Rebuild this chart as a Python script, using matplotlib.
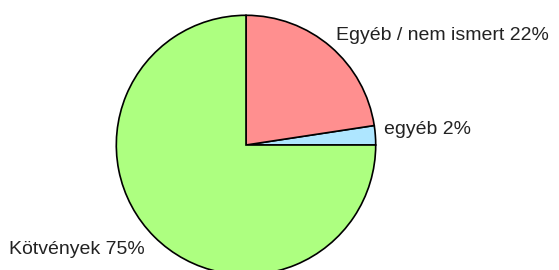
import matplotlib
matplotlib.use('Agg')
import matplotlib.pyplot as plt

plt.rcParams['font.family'] = ['Liberation Sans', 'DejaVu Sans']

labels = ['egyéb 2%', 'Egyéb / nem ismert 22%', 'Kötvények 75%']
values = [2.4, 22.6, 75.0]
colors = ['#aee6ff', '#ff8f8f', '#adff80']

fig = plt.figure(figsize=(5.59, 2.70), dpi=100)
ax = fig.add_axes([115 / 559, -6 / 270, 262 / 559, 262 / 270])

ax.pie(values, colors=colors, startangle=0, counterclock=True,
       wedgeprops={'edgecolor': 'black', 'linewidth': 1.2}, radius=1)
ax.set_xlim(-1.01, 1.01)
ax.set_ylim(-1.01, 1.01)
ax.set_aspect('equal')
ax.axis('off')

fig.text(336 / 559, 1 - 35 / 270, labels[1], fontsize=14, va='center', ha='left', color='#222222')
fig.text(384 / 559, 1 - 129 / 270, labels[0], fontsize=14, va='center', ha='left', color='#222222')
fig.text(9 / 559, 1 - 249 / 270, labels[2], fontsize=14, va='center', ha='left', color='#222222')

fig.savefig('out.png', dpi=100)
